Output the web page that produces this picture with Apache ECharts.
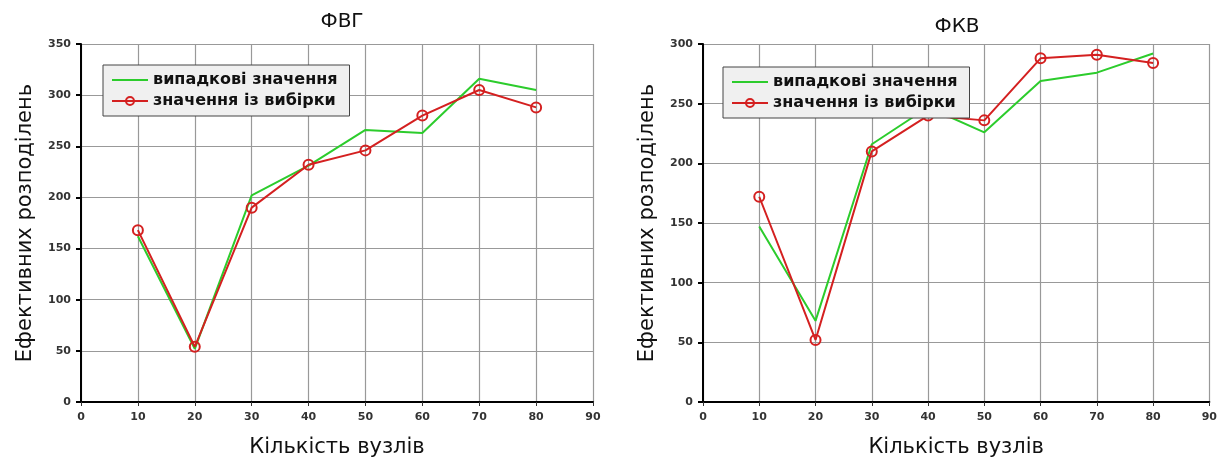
<!DOCTYPE html>
<html><head><meta charset="utf-8">
<script src="https://cdn.jsdelivr.net/npm/echarts@6/dist/echarts.min.js"></script>
<style>html,body{margin:0;padding:0;background:#fff}#c{width:1220px;height:463px}</style>
</head><body><div id="c"></div>
<script>
const nodes = [10, 20, 30, 40, 50, 60, 70, 80];
const fvgRandom = [162, 52, 202, 231, 266, 263, 316, 305];
const fvgSample = [168, 54, 190, 232, 246, 280, 305, 288];
const fkvRandom = [147, 68, 216, 247, 226, 269, 276, 292];
const fkvSample = [172, 52, 210, 240, 236, 288, 291, 284];
const seriesNames = ['випадкові значення', 'значення із вибірки'];
const titles = ['ФВГ', 'ФКВ'];
const xName = 'Кількість вузлів';
const yName = 'Ефективних розподілень';
const yMax = [350, 300];

const pairs = (ys) => nodes.map((x, i) => [x, ys[i]]);
const font = 'DejaVu Sans';
const GREEN = '#2ccc2c', RED = '#d42020';
const grids = [
  {left: 81, right: 627, top: 44, bottom: 58},
  {left: 703, right: 7, top: 44, bottom: 56}
];
function xAxis(i){return {type:'value', gridIndex:i, min:0, max:90, interval:10,
  name:xName, nameLocation:'middle', nameGap:35,
  nameTextStyle:{fontFamily:font, fontSize:21, color:'#111'},
  axisLine:{lineStyle:{color:'#000', width:2}}, axisTick:{show:true, length:4, lineStyle:{color:'#333'}},
  axisLabel:{fontFamily:font, fontSize:11, fontWeight:'bold', color:'#333', margin:10},
  splitLine:{show:true, lineStyle:{color:'#999', width:1.2}}};}
function yAxis(i){return {type:'value', gridIndex:i, min:0, max:yMax[i], interval:50,
  name:yName, nameLocation:'middle', nameGap:45,
  nameTextStyle:{fontFamily:font, fontSize:21, color:'#111'},
  axisLine:{show:true, lineStyle:{color:'#000', width:2}}, axisTick:{show:true, length:5, lineStyle:{color:'#000', width:2}},
  axisLabel:{fontFamily:font, fontSize:11, fontWeight:'bold', color:'#333', margin:10},
  splitLine:{show:true, lineStyle:{color:'#999', width:1.2}}};}
function ser(i, name, ys, isSample){
  return {type:'line', name:name, xAxisIndex:i, yAxisIndex:i, data:pairs(ys),
    symbol: isSample ? 'circle' : 'none', symbolSize:10, showSymbol:isSample,
    lineStyle:{color: isSample ? RED : GREEN, width:2},
    itemStyle: isSample ? {color:'rgba(255,255,255,0)', borderColor:RED, borderWidth:2} : {color:GREEN},
    color: isSample ? RED : GREEN, z: isSample ? 3 : 2, animation:false};
}
const legendBase = {orient:'vertical', itemWidth:36, itemHeight:10, itemGap:5, symbolKeepAspect:true,
  backgroundColor:'#f0f0f0', borderColor:'#444', borderWidth:1, padding:[7,12,7,8],
  textStyle:{fontFamily:font, fontSize:16, fontWeight:'bold', color:'#111'},
  data:[{name:seriesNames[0], icon:'path://M0,4 L36,4 L36,6.2 L0,6.2 Z', itemStyle:{color:GREEN}}, {name:seriesNames[1]}]};
const option = {
  backgroundColor:'#fff',
  title:[
    {text:titles[0], left:337, top:7, textAlign:'center', textStyle:{fontFamily:font, fontSize:20, fontWeight:'normal', color:'#111'}},
    {text:titles[1], left:952, top:12, textAlign:'center', textStyle:{fontFamily:font, fontSize:20, fontWeight:'normal', color:'#111'}}
  ],
  grid:grids,
  xAxis:[xAxis(0), xAxis(1)],
  yAxis:[yAxis(0), yAxis(1)],
  legend:[
    Object.assign({}, legendBase, {left:103, top:65}),
    Object.assign({}, legendBase, {left:723, top:67})
  ],
  series:[
    ser(0, seriesNames[0], fvgRandom, false),
    ser(0, seriesNames[1], fvgSample, true),
    ser(1, seriesNames[0], fkvRandom, false),
    ser(1, seriesNames[1], fkvSample, true)
  ]
};
const chart = echarts.init(document.getElementById('c'), null, {renderer:'canvas'});
chart.setOption(option);
</script></body></html>
